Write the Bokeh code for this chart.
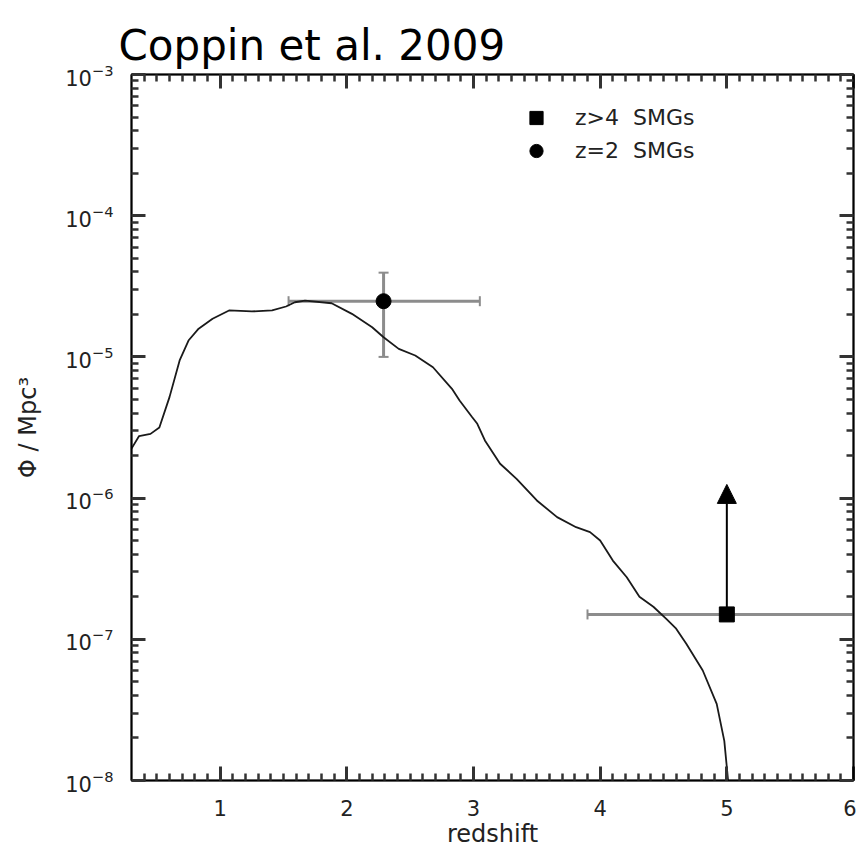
from bokeh.plotting import figure
from bokeh.models import (SingleIntervalTicker, FixedTicker, LinearAxis, LogAxis, Whisker, TeeHead, Arrow,
                          NormalHead, ColumnDataSource, Legend, LegendItem, LogTickFormatter,
                          CustomJSTickFormatter)
from bokeh.embed import file_html
from bokeh.resources import INLINE

# ---- data ----
curve_z = [0.30, 0.36, 0.45, 0.52, 0.60, 0.68, 0.75, 0.83, 0.94, 1.07,
           1.25, 1.41, 1.52, 1.59, 1.67, 1.88, 2.04, 2.20, 2.29, 2.41,
           2.54, 2.68, 2.83, 2.89, 2.99, 3.03, 3.09, 3.21, 3.34, 3.50,
           3.66, 3.81, 3.92, 4.00, 4.10, 4.21, 4.31, 4.42, 4.52, 4.60,
           4.68, 4.81, 4.92, 4.98, 5.01]
curve_phi = [2.24e-6, 2.75e-6, 2.85e-6, 3.16e-6, 5.19e-6, 9.44e-6, 1.306e-5, 1.585e-5, 1.862e-5, 2.133e-5,
             2.099e-5, 2.133e-5, 2.275e-5, 2.438e-5, 2.506e-5, 2.399e-5, 2.018e-5, 1.622e-5, 1.377e-5, 1.140e-5,
             1.023e-5, 8.45e-6, 5.94e-6, 4.91e-6, 3.74e-6, 3.36e-6, 2.56e-6, 1.75e-6, 1.37e-6, 9.62e-7,
             7.33e-7, 6.22e-7, 5.74e-7, 5.01e-7, 3.61e-7, 2.75e-7, 2.00e-7, 1.70e-7, 1.40e-7, 1.19e-7,
             9.29e-8, 6.01e-8, 3.49e-8, 1.91e-8, 1.0e-8]

# z=2 SMGs
smg2_z = [2.29]
smg2_phi = [2.48e-5]
smg2_phi_lo = [1.0e-5]
smg2_phi_hi = [3.95e-5]
smg2_z_lo = [1.54]
smg2_z_hi = [3.05]

# z>4 SMGs (lower limit)
smg4_z = [5.0]
smg4_phi = [1.5e-7]
smg4_z_lo = [3.9]
smg4_z_hi = [6.0]
smg4_limit_phi = [1.25e-6]

y_decades = [-8, -7, -6, -5, -4, -3]
legend_labels = ["z>4  SMGs", "z=2  SMGs"]
title_text = "Coppin et al. 2009"
x_label = "redshift"
y_label = "\u03a6 / Mpc\u00b3"

# ---- figure ----
FONT = "DejaVu Sans"
p = figure(width=856, height=854, x_range=(0.3, 6.0), y_range=(1e-8, 1e-3),
           y_axis_type="log", output_backend="svg", toolbar_location=None,
           min_border_left=131, min_border_right=3, min_border_top=74, min_border_bottom=74,
           background_fill_color="white", border_fill_color="white")
p.title.text = title_text
p.title.text_font = FONT
p.title.text_font_size = "42px"
p.title.text_font_style = "normal"
p.title.text_color = "black"
p.title.align = "left"
p.title.offset = -13

p.xgrid.visible = False
p.ygrid.visible = False
p.outline_line_color = "black"
p.outline_line_width = 1.5


def xticker():
    return SingleIntervalTicker(interval=1, num_minor_ticks=10)


def yticker():
    return FixedTicker(ticks=[10.0 ** d for d in y_decades],
                       minor_ticks=[m * 10.0 ** d for d in y_decades[:-1] for m in range(2, 10)])


def style(ax, labels=True):
    ax.axis_line_color = "black"
    ax.axis_line_width = 2
    ax.major_tick_in = 14
    ax.major_tick_out = 0
    ax.minor_tick_in = 7
    ax.minor_tick_out = 0
    ax.major_tick_line_width = 3
    ax.minor_tick_line_width = 2.5
    ax.major_tick_line_color = "#333333"
    ax.minor_tick_line_color = "#333333"
    if labels:
        ax.major_label_text_font = FONT
        ax.major_label_text_font_size = "21px"
        ax.major_label_text_color = "#222222"
        ax.axis_label_text_font = FONT
        ax.axis_label_text_font_style = "normal"
        ax.axis_label_text_color = "#222222"
    else:
        ax.formatter = CustomJSTickFormatter(code="return ''")
        ax.major_label_text_font_size = "1px"
        ax.major_label_standoff = 0


xa = p.xaxis[0]
xa.ticker = xticker()
style(xa)
xa.axis_label = x_label
xa.axis_label_text_font_size = "24px"
xa.major_label_standoff = 19
xa.axis_label_standoff = 1

ya = p.yaxis[0]
ya.ticker = yticker()
style(ya)
ya.formatter = LogTickFormatter()
ya.axis_label = y_label
ya.axis_label_text_font_size = "24px"
ya.major_label_standoff = 18
ya.axis_label_standoff = 20

top = LinearAxis(ticker=xticker())
style(top, labels=False)
p.add_layout(top, "above")
right = LogAxis(ticker=yticker())
style(right, labels=False)
p.add_layout(right, "right")

# ---- error bars ----
GRAY = "#8c8c8c"
src2 = ColumnDataSource(dict(z=smg2_z, phi=smg2_phi, lo=smg2_phi_lo, hi=smg2_phi_hi,
                             zlo=smg2_z_lo, zhi=smg2_z_hi))
src4 = ColumnDataSource(dict(z=smg4_z, phi=smg4_phi, zlo=smg4_z_lo, zhi=smg4_z_hi,
                             lim=smg4_limit_phi))

for w in [
    Whisker(source=src2, base="z", lower="lo", upper="hi", dimension="height",
            lower_head=TeeHead(size=10, line_color=GRAY, line_width=2),
            upper_head=TeeHead(size=10, line_color=GRAY, line_width=2),
            line_color=GRAY, line_width=3, level="underlay"),
    Whisker(source=src2, base="phi", lower="zlo", upper="zhi", dimension="width",
            lower_head=TeeHead(size=10, line_color=GRAY, line_width=2),
            upper_head=TeeHead(size=10, line_color=GRAY, line_width=2),
            line_color=GRAY, line_width=3, level="underlay"),
    Whisker(source=src4, base="phi", lower="zlo", upper="zhi", dimension="width",
            lower_head=TeeHead(size=10, line_color=GRAY, line_width=2),
            upper_head=None,
            line_color=GRAY, line_width=3, level="underlay"),
]:
    p.add_layout(w)

# ---- curve ----
p.line(curve_z, curve_phi, line_color="#1a1a1a", line_width=1.8)

# ---- lower-limit arrow ----
p.add_layout(Arrow(source=src4, x_start="z", y_start="phi", x_end="z", y_end="lim",
                   line_color="black", line_width=2,
                   end=NormalHead(size=19, fill_color="black", line_color="black")))

# ---- markers ----
r4 = p.scatter("z", "phi", source=src4, marker="square", size=15, color="black")
r2 = p.scatter("z", "phi", source=src2, marker="circle", size=15, color="black")

legend = Legend(items=[LegendItem(label=legend_labels[0], renderers=[r4]),
                       LegendItem(label=legend_labels[1], renderers=[r2])],
                location=(386, 613), orientation="vertical",
                glyph_width=38, glyph_height=33, spacing=0, padding=0, margin=0,
                label_standoff=20, label_text_font=FONT, label_text_font_size="22px",
                label_text_color="#222222", border_line_color=None,
                background_fill_alpha=0)
p.add_layout(legend, "center")

open("out.html", "w").write(file_html(p, INLINE))
